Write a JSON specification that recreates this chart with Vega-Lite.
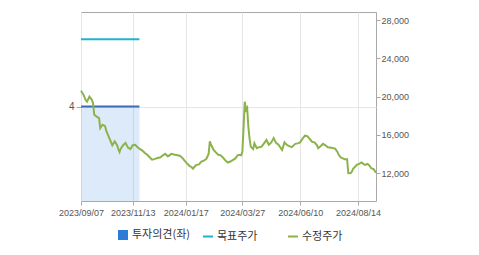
{
  "$schema": "https://vega.github.io/schema/vega-lite/v6.json",
  "width": 295,
  "height": 189,
  "autosize": "none",
  "padding": {"left": 81, "top": 12, "right": 103, "bottom": 54},
  "config": {
    "view": {"stroke": "#a8a8a8"},
    "font": "Liberation Sans",
    "axis": {"labelFont": "Liberation Sans", "labelFontSize": 9, "labelColor": "#555555", "tickColor": "#a8a8a8", "domain": false, "title": null}
  },
  "datasets": {
    "opinion": [{"t": 0, "op": 4}, {"t": 48.5, "op": 4}],
    "target": [{"t": 0, "tp": 26000}, {"t": 48.5, "tp": 26000}],
    "price": [
      {"t": 0, "v": 20600}, {"t": 2, "v": 20200}, {"t": 4, "v": 19600}, {"t": 5, "v": 19450}, {"t": 7, "v": 19980},
      {"t": 9, "v": 19650}, {"t": 10, "v": 19300}, {"t": 11, "v": 18100}, {"t": 13, "v": 17900}, {"t": 15, "v": 17750},
      {"t": 16, "v": 16700}, {"t": 17, "v": 16900}, {"t": 18, "v": 17050}, {"t": 20, "v": 16900}, {"t": 21, "v": 16400},
      {"t": 23, "v": 15800}, {"t": 25, "v": 15200}, {"t": 26, "v": 14900}, {"t": 28, "v": 15300}, {"t": 30, "v": 14900},
      {"t": 31, "v": 14500}, {"t": 32, "v": 14200}, {"t": 33, "v": 14550}, {"t": 35, "v": 14900}, {"t": 37, "v": 15150},
      {"t": 39, "v": 14650}, {"t": 41, "v": 14500}, {"t": 43, "v": 14900}, {"t": 45, "v": 14950}, {"t": 47, "v": 14700},
      {"t": 49, "v": 14500}, {"t": 51, "v": 14350}, {"t": 53, "v": 14100}, {"t": 55, "v": 13900}, {"t": 57, "v": 13650},
      {"t": 59, "v": 13400}, {"t": 61, "v": 13450}, {"t": 63, "v": 13550}, {"t": 66, "v": 13650}, {"t": 68, "v": 13850},
      {"t": 70, "v": 14000}, {"t": 72, "v": 13750}, {"t": 73, "v": 13800}, {"t": 75, "v": 14000}, {"t": 78, "v": 13900},
      {"t": 82, "v": 13800}, {"t": 84, "v": 13600}, {"t": 86, "v": 13300}, {"t": 88, "v": 13000}, {"t": 90, "v": 12750},
      {"t": 92, "v": 12600}, {"t": 93, "v": 12450}, {"t": 95, "v": 12750}, {"t": 96, "v": 12850}, {"t": 98, "v": 12900},
      {"t": 100, "v": 13200}, {"t": 102, "v": 13300}, {"t": 104, "v": 13450}, {"t": 106, "v": 14000}, {"t": 107, "v": 15300},
      {"t": 108, "v": 14950}, {"t": 110, "v": 14450}, {"t": 112, "v": 14150}, {"t": 114, "v": 13900}, {"t": 116, "v": 13850},
      {"t": 118, "v": 13600}, {"t": 120, "v": 13300}, {"t": 122, "v": 13100}, {"t": 124, "v": 13200}, {"t": 126, "v": 13350},
      {"t": 128, "v": 13500}, {"t": 130, "v": 13850}, {"t": 132, "v": 13900}, {"t": 133, "v": 13850}, {"t": 134, "v": 14200},
      {"t": 135, "v": 16700}, {"t": 136, "v": 19450}, {"t": 137, "v": 18600}, {"t": 138, "v": 18800}, {"t": 139, "v": 16800},
      {"t": 140, "v": 15600}, {"t": 141, "v": 14750}, {"t": 143, "v": 14500}, {"t": 144, "v": 15100}, {"t": 146, "v": 14600},
      {"t": 148, "v": 14700}, {"t": 150, "v": 14750}, {"t": 152, "v": 15100}, {"t": 154, "v": 15450}, {"t": 156, "v": 14950},
      {"t": 158, "v": 15200}, {"t": 160, "v": 15650}, {"t": 162, "v": 15150}, {"t": 164, "v": 14950}, {"t": 167, "v": 14400},
      {"t": 169, "v": 15200}, {"t": 170, "v": 15050}, {"t": 172, "v": 14850}, {"t": 175, "v": 14700}, {"t": 178, "v": 15050},
      {"t": 180, "v": 15100}, {"t": 182, "v": 15200}, {"t": 184, "v": 15600}, {"t": 186, "v": 15900}, {"t": 188, "v": 15850},
      {"t": 189, "v": 15700}, {"t": 191, "v": 15400}, {"t": 192, "v": 15250}, {"t": 194, "v": 15200}, {"t": 196, "v": 14900},
      {"t": 197, "v": 14600}, {"t": 199, "v": 14800}, {"t": 201, "v": 15050}, {"t": 203, "v": 14900}, {"t": 205, "v": 14700},
      {"t": 208, "v": 14650}, {"t": 211, "v": 14550}, {"t": 213, "v": 14200}, {"t": 214, "v": 13900}, {"t": 216, "v": 13600},
      {"t": 217, "v": 13550}, {"t": 219, "v": 13450}, {"t": 221, "v": 13450}, {"t": 222, "v": 11980}, {"t": 224, "v": 12000},
      {"t": 225, "v": 12150}, {"t": 226, "v": 12450}, {"t": 228, "v": 12700}, {"t": 229, "v": 12850}, {"t": 231, "v": 12950},
      {"t": 233, "v": 13100}, {"t": 235, "v": 12900}, {"t": 236, "v": 12850}, {"t": 238, "v": 12950}, {"t": 239, "v": 12850},
      {"t": 240, "v": 12700}, {"t": 241, "v": 12500}, {"t": 243, "v": 12400}, {"t": 245, "v": 12030}
    ]
  },
  "encoding": {
    "x": {
      "field": "t",
      "type": "quantitative",
      "scale": {"domain": [0, 245], "nice": false, "zero": false},
      "axis": {
        "values": [0, 43, 87, 134, 182, 230],
        "labelExpr": "datum.value == 0 ? '2023/09/07' : datum.value == 43 ? '2023/11/13' : datum.value == 87 ? '2024/01/17' : datum.value == 134 ? '2024/03/27' : datum.value == 182 ? '2024/06/10' : '2024/08/14'",
        "grid": true,
        "gridColor": "#e6e6e6",
        "tickSize": 4,
        "labelPadding": 3,
        "labelFlush": false,
        "labelOverlap": false
      }
    }
  },
  "layer": [
    {
      "layer": [
        {
          "data": {"name": "opinion"},
          "mark": {"type": "area", "fillOpacity": 0.16},
          "encoding": {
            "y": {"field": "op", "type": "quantitative", "scale": {"domain": [0, 8], "nice": false},
              "axis": {"orient": "left", "values": [4], "grid": true, "gridColor": "#e6e6e6", "tickSize": 5, "labelFontSize": 10}},
            "color": {
              "datum": "투자의견(좌)",
              "scale": {"domain": ["투자의견(좌)", "목표주가", "수정주가"], "range": ["#2b7bd8", "#1cb5c9", "#8cb34a"]},
              "legend": {
                "orient": "none", "legendX": 36, "legendY": 217, "direction": "horizontal", "title": null,
                "labelFont": "Noto Sans CJK KR", "labelFontSize": 11, "labelColor": "#333333",
                "symbolSize": 100, "columnPadding": 8, "gridAlign": "all", "labelOffset": 3, "symbolStrokeWidth": 2,
                "encode": {
                  "symbols": {
                    "update": {
                      "shape": {"signal": "datum.value === '투자의견(좌)' ? 'square' : 'stroke'"},
                      "size": {"signal": "datum.value === '투자의견(좌)' ? 64 : 100"},
                      "fill": {"signal": "datum.value === '투자의견(좌)' ? '#2b7bd8' : 'transparent'"},
                      "stroke": {"signal": "datum.value === '투자의견(좌)' ? 'transparent' : (datum.value === '목표주가' ? '#1cb5c9' : '#8cb34a')"},
                      "opacity": {"value": 1},
                      "fillOpacity": {"value": 1},
                      "strokeWidth": {"value": 2}
                    }
                  }
                }
              }
            }
          }
        },
        {
          "data": {"name": "opinion"},
          "mark": {"type": "line", "color": "#3a6db5", "strokeWidth": 2},
          "encoding": {"y": {"field": "op", "type": "quantitative"}}
        }
      ]
    },
    {
      "layer": [
        {
          "data": {"name": "target"},
          "mark": {"type": "line", "strokeWidth": 2},
          "encoding": {
            "y": {"field": "tp", "type": "quantitative", "scale": {"domain": [9072, 28837], "nice": false, "zero": false},
              "axis": {"orient": "right", "values": [12000, 16000, 20000, 24000, 28000], "format": ",.0f", "grid": false, "tickSize": 4, "labelPadding": 1}},
            "color": {"datum": "목표주가"}
          }
        },
        {
          "data": {"name": "price"},
          "mark": {"type": "line", "strokeWidth": 2},
          "encoding": {
            "y": {"field": "v", "type": "quantitative"},
            "color": {"datum": "수정주가"}
          }
        }
      ]
    }
  ],
  "resolve": {"scale": {"y": "independent"}}
}
